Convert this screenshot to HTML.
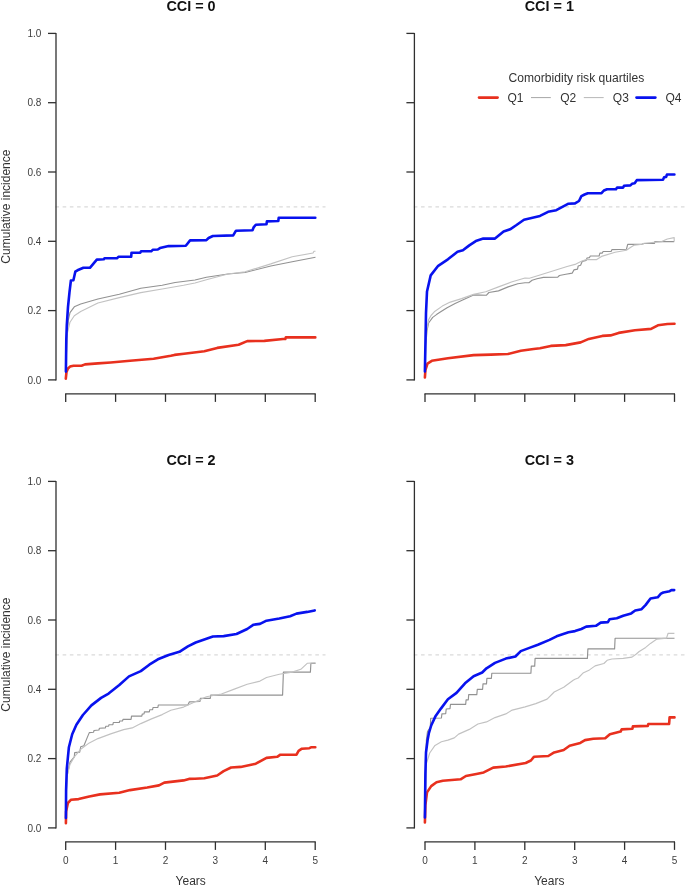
<!DOCTYPE html><html><head><meta charset="utf-8"><title>Cumulative incidence by CCI</title>
<style>html,body{margin:0;padding:0;background:#fff}svg{display:block}text{font-family:"Liberation Sans",Arial,Helvetica,sans-serif}</style></head><body>
<svg width="685" height="886" viewBox="0 0 685 886">
<rect width="685" height="886" fill="#fff"/>
<line x1="55.4" y1="206.8" x2="325.5" y2="206.8" stroke="#dadada" stroke-width="1.3" stroke-dasharray="3.6 3.62"/>
<polyline points="65.8,378.6 66.5,372.0 68.0,368.5 70.0,366.6 73.5,365.7 81.5,365.7 85.0,364.4 97.9,363.4 110.7,362.5 130.0,360.8 153.6,358.7 170.8,355.7 174.5,354.9 184.0,353.7 204.3,351.2 217.2,347.9 238.6,344.7 247.2,341.1 264.3,340.9 283.0,339.0 285.3,339.0 285.8,337.4 315.3,337.4" fill="none" stroke="#e8301e" stroke-width="2.6" stroke-linejoin="round" stroke-linecap="round"/>
<polyline points="66.0,372.0 66.8,340.0 68.3,320.0 70.0,312.6 74.3,306.8 80.7,304.0 97.9,299.0 119.3,294.3 140.8,288.3 162.2,285.3 175.1,282.5 195.0,280.0 206.4,277.2 227.9,274.0 245.0,272.5 270.8,266.0 292.2,261.7 315.5,257.2" fill="none" stroke="#929292" stroke-width="1.15" stroke-linejoin="round"/>
<polyline points="66.0,372.0 66.6,345.0 67.4,333.0 70.0,322.2 74.3,315.8 80.7,311.5 97.9,303.0 119.3,297.6 140.8,292.6 162.2,289.0 183.6,285.3 195.0,283.0 206.4,279.8 227.9,274.0 245.0,271.8 270.8,263.9 292.2,256.8 313.0,253.0 314.0,251.2 315.5,251.2" fill="none" stroke="#c2c2c2" stroke-width="1.15" stroke-linejoin="round"/>
<polyline points="65.9,371.6 66.3,339.4 66.8,325.0 68.0,306.8 69.5,292.2 70.9,280.5 73.4,280.2 75.3,271.7 77.5,270.3 83.4,267.8 89.9,267.8 96.8,259.6 103.8,259.3 104.5,258.3 116.9,258.3 118.4,256.8 131.2,256.7 131.5,252.7 140.3,252.7 141.0,251.3 151.2,251.3 152.7,249.8 157.8,249.5 160.0,248.1 168.6,246.1 185.8,245.7 190.1,240.4 206.4,240.1 208.6,238.0 212.9,236.0 233.2,235.4 236.0,230.7 252.5,230.2 253.6,227.4 255.8,224.7 266.5,224.2 266.9,221.4 278.3,221.0 278.7,217.8 315.3,217.8" fill="none" stroke="#0812ee" stroke-width="2.6" stroke-linejoin="round" stroke-linecap="round"/>
<g stroke="#303030" stroke-width="1.3" fill="none">
<line x1="56.0" y1="32.9" x2="56.0" y2="380.4"/>
<line x1="48.0" y1="379.9" x2="56.0" y2="379.9"/>
<line x1="48.0" y1="310.6" x2="56.0" y2="310.6"/>
<line x1="48.0" y1="241.3" x2="56.0" y2="241.3"/>
<line x1="48.0" y1="172.0" x2="56.0" y2="172.0"/>
<line x1="48.0" y1="102.7" x2="56.0" y2="102.7"/>
<line x1="48.0" y1="33.4" x2="56.0" y2="33.4"/>
<line x1="65.2" y1="393.8" x2="315.7" y2="393.8"/>
<line x1="65.7" y1="393.8" x2="65.7" y2="401.9"/>
<line x1="115.6" y1="393.8" x2="115.6" y2="401.9"/>
<line x1="165.5" y1="393.8" x2="165.5" y2="401.9"/>
<line x1="215.4" y1="393.8" x2="215.4" y2="401.9"/>
<line x1="265.3" y1="393.8" x2="265.3" y2="401.9"/>
<line x1="315.2" y1="393.8" x2="315.2" y2="401.9"/>
</g>
<text x="41.4" y="383.5" font-size="10" text-anchor="end" fill="#3e3e3e">0.0</text>
<text x="41.4" y="314.2" font-size="10" text-anchor="end" fill="#3e3e3e">0.2</text>
<text x="41.4" y="244.9" font-size="10" text-anchor="end" fill="#3e3e3e">0.4</text>
<text x="41.4" y="175.6" font-size="10" text-anchor="end" fill="#3e3e3e">0.6</text>
<text x="41.4" y="106.3" font-size="10" text-anchor="end" fill="#3e3e3e">0.8</text>
<text x="41.4" y="37.0" font-size="10" text-anchor="end" fill="#3e3e3e">1.0</text>
<text transform="translate(10.2,206.6) rotate(-90)" font-size="12" text-anchor="middle" fill="#333">Cumulative incidence</text>
<text x="191.0" y="10.9" font-size="14.4" font-weight="bold" text-anchor="middle" fill="#111">CCI = 0</text>
<line x1="413.8" y1="206.8" x2="684.5" y2="206.8" stroke="#dadada" stroke-width="1.3" stroke-dasharray="3.6 3.62"/>
<polyline points="424.9,377.4 425.4,370.0 427.5,363.6 431.8,360.8 447.9,358.3 473.6,355.1 490.8,354.6 507.9,354.0 520.8,350.8 533.6,349.0 540.0,348.3 550.8,345.9 565.7,345.1 580.7,342.4 588.8,338.9 602.3,335.9 610.5,335.4 618.6,332.9 634.9,330.2 651.1,328.9 657.9,325.3 667.4,324.0 674.5,323.7" fill="none" stroke="#e8301e" stroke-width="2.6" stroke-linejoin="round" stroke-linecap="round"/>
<polyline points="425.2,372.0 425.6,345.0 426.4,338.0 427.0,331.0 428.6,323.0 432.7,317.4 436.5,314.6 440.7,311.8 447.1,307.7 455.1,303.4 463.2,299.7 473.6,294.9 486.5,295.2 488.9,292.5 498.5,290.9 508.1,286.9 517.8,283.7 525.0,282.8 528.9,282.7 532.1,280.3 536.9,278.7 543.4,277.4 557.8,277.1 559.4,275.5 565.8,274.2 572.3,273.1 573.9,269.9 577.5,269.1 578.2,266.0 580.6,265.2 582.2,261.5 586.2,260.4 587.0,258.0 589.5,257.6 590.3,256.0 599.1,256.0 599.9,253.1 602.3,253.1 603.1,251.5 611.1,251.5 611.9,249.6 626.4,249.3 627.7,244.3 641.6,244.3 644.1,243.5 654.5,243.5 654.8,241.6 674.2,241.6" fill="none" stroke="#929292" stroke-width="1.15" stroke-linejoin="round"/>
<polyline points="425.2,372.0 425.6,345.0 426.4,332.0 427.0,327.8 428.6,319.8 431.0,315.5 434.3,311.8 442.3,306.1 450.3,302.1 461.6,298.6 473.6,294.4 485.7,291.7 498.5,286.9 511.4,282.0 525.0,278.0 529.4,278.2 540.0,275.0 567.1,266.5 575.0,264.4 581.4,261.2 586.2,259.6 596.7,259.6 601.5,256.4 615.1,252.3 626.4,250.3 630.4,247.5 634.4,245.1 642.4,244.3 644.1,243.2 661.7,241.6 667.3,239.0 674.2,237.6 674.2,241.6" fill="none" stroke="#c2c2c2" stroke-width="1.15" stroke-linejoin="round"/>
<polyline points="424.9,371.5 425.5,340.0 426.0,313.0 427.0,291.5 430.7,275.4 438.2,265.8 447.9,259.3 457.5,251.8 462.9,250.3 469.3,245.4 475.8,241.1 483.3,238.6 495.0,238.6 503.6,231.5 510.1,229.3 516.5,225.0 524.0,219.7 533.6,217.5 540.0,215.9 548.1,211.8 556.3,210.2 568.5,203.7 575.0,203.4 579.0,201.0 581.4,196.1 584.6,194.5 587.8,193.2 601.5,193.2 603.9,190.5 607.1,189.2 616.0,189.2 617.1,187.6 623.2,187.6 624.0,185.7 630.4,185.4 632.0,183.8 634.7,183.3 636.8,180.1 663.0,179.8 664.1,177.3 666.2,176.9 666.9,174.5 674.4,174.5" fill="none" stroke="#0812ee" stroke-width="2.6" stroke-linejoin="round" stroke-linecap="round"/>
<g stroke="#303030" stroke-width="1.3" fill="none">
<line x1="414.4" y1="32.9" x2="414.4" y2="380.4"/>
<line x1="406.4" y1="379.9" x2="414.4" y2="379.9"/>
<line x1="406.4" y1="310.6" x2="414.4" y2="310.6"/>
<line x1="406.4" y1="241.3" x2="414.4" y2="241.3"/>
<line x1="406.4" y1="172.0" x2="414.4" y2="172.0"/>
<line x1="406.4" y1="102.7" x2="414.4" y2="102.7"/>
<line x1="406.4" y1="33.4" x2="414.4" y2="33.4"/>
<line x1="424.5" y1="393.8" x2="675.0" y2="393.8"/>
<line x1="425.0" y1="393.8" x2="425.0" y2="401.9"/>
<line x1="474.9" y1="393.8" x2="474.9" y2="401.9"/>
<line x1="524.8" y1="393.8" x2="524.8" y2="401.9"/>
<line x1="574.7" y1="393.8" x2="574.7" y2="401.9"/>
<line x1="624.6" y1="393.8" x2="624.6" y2="401.9"/>
<line x1="674.5" y1="393.8" x2="674.5" y2="401.9"/>
</g>
<text x="549.3" y="10.9" font-size="14.4" font-weight="bold" text-anchor="middle" fill="#111">CCI = 1</text>
<line x1="55.4" y1="654.8" x2="325.5" y2="654.8" stroke="#dadada" stroke-width="1.3" stroke-dasharray="3.6 3.62"/>
<polyline points="65.9,823.3 66.1,811.5 67.9,803.0 71.1,799.7 78.6,799.1 89.3,796.5 100.0,794.4 119.3,792.7 130.0,790.1 147.2,787.5 159.0,785.4 164.3,782.6 183.6,780.4 189.0,778.9 195.0,778.7 204.3,778.3 217.2,775.5 223.6,771.2 231.1,767.5 240.7,766.9 255.8,763.7 266.5,757.9 277.2,756.8 280.4,754.7 296.5,754.7 298.6,750.8 301.9,748.7 309.4,748.2 311.5,747.2 315.3,747.2" fill="none" stroke="#e8301e" stroke-width="2.6" stroke-linejoin="round" stroke-linecap="round"/>
<polyline points="65.8,815.0 66.8,777.2 70.0,762.2 74.3,756.9 74.7,752.6 79.7,752.1 80.7,746.8 83.9,745.7 87.2,737.6 89.3,732.6 93.6,732.2 94.0,730.5 98.9,730.0 99.4,728.3 105.4,727.9 105.8,726.2 108.6,726.2 109.0,724.7 112.9,724.7 113.3,722.5 119.3,722.5 119.7,721.0 122.5,721.0 123.0,719.3 131.1,719.3 131.5,716.1 141.8,716.1 142.3,714.0 144.0,714.0 144.4,711.8 149.3,711.8 149.8,709.7 152.6,709.7 153.0,707.5 157.9,707.5 158.3,705.0 187.9,705.0 189.3,701.9 200.0,701.5 200.4,698.3 210.3,698.3 210.7,695.1 282.6,695.1 283.4,672.1 310.4,672.1 310.9,663.3 315.5,663.3" fill="none" stroke="#929292" stroke-width="1.15" stroke-linejoin="round"/>
<polyline points="65.8,815.0 66.8,777.2 70.0,764.4 74.3,756.9 80.7,749.3 89.3,742.9 97.9,738.6 110.7,733.9 123.6,729.6 132.2,727.9 140.8,723.6 151.5,718.9 162.2,714.6 170.8,710.3 183.6,707.1 193.6,702.6 206.4,696.8 221.4,694.0 234.3,689.1 247.2,684.3 260.0,681.1 266.5,677.5 279.3,674.3 292.2,672.1 300.8,669.3 307.2,663.3 315.5,662.9" fill="none" stroke="#c2c2c2" stroke-width="1.15" stroke-linejoin="round"/>
<polyline points="65.9,818.0 66.1,790.0 66.8,768.6 68.9,747.2 72.2,734.3 76.4,724.7 82.9,715.0 91.4,705.4 101.1,697.9 108.6,693.6 119.3,685.0 129.0,676.4 140.8,671.1 149.3,664.7 157.9,659.3 168.6,655.0 179.4,651.8 187.9,646.4 195.7,642.5 212.9,636.5 223.6,636.1 236.5,634.0 247.2,629.0 253.6,624.7 260.0,623.9 266.5,620.7 279.3,618.5 290.1,616.2 296.5,613.6 307.2,611.9 314.7,610.4" fill="none" stroke="#0812ee" stroke-width="2.6" stroke-linejoin="round" stroke-linecap="round"/>
<g stroke="#303030" stroke-width="1.3" fill="none">
<line x1="56.0" y1="480.9" x2="56.0" y2="828.4"/>
<line x1="48.0" y1="827.9" x2="56.0" y2="827.9"/>
<line x1="48.0" y1="758.6" x2="56.0" y2="758.6"/>
<line x1="48.0" y1="689.3" x2="56.0" y2="689.3"/>
<line x1="48.0" y1="620.0" x2="56.0" y2="620.0"/>
<line x1="48.0" y1="550.7" x2="56.0" y2="550.7"/>
<line x1="48.0" y1="481.4" x2="56.0" y2="481.4"/>
<line x1="65.2" y1="841.8" x2="315.7" y2="841.8"/>
<line x1="65.7" y1="841.8" x2="65.7" y2="849.9"/>
<line x1="115.6" y1="841.8" x2="115.6" y2="849.9"/>
<line x1="165.5" y1="841.8" x2="165.5" y2="849.9"/>
<line x1="215.4" y1="841.8" x2="215.4" y2="849.9"/>
<line x1="265.3" y1="841.8" x2="265.3" y2="849.9"/>
<line x1="315.2" y1="841.8" x2="315.2" y2="849.9"/>
</g>
<text x="41.4" y="831.5" font-size="10" text-anchor="end" fill="#3e3e3e">0.0</text>
<text x="41.4" y="762.2" font-size="10" text-anchor="end" fill="#3e3e3e">0.2</text>
<text x="41.4" y="692.9" font-size="10" text-anchor="end" fill="#3e3e3e">0.4</text>
<text x="41.4" y="623.6" font-size="10" text-anchor="end" fill="#3e3e3e">0.6</text>
<text x="41.4" y="554.3" font-size="10" text-anchor="end" fill="#3e3e3e">0.8</text>
<text x="41.4" y="485.0" font-size="10" text-anchor="end" fill="#3e3e3e">1.0</text>
<text transform="translate(10.2,654.6) rotate(-90)" font-size="12" text-anchor="middle" fill="#333">Cumulative incidence</text>
<text x="65.7" y="864.4" font-size="10" text-anchor="middle" fill="#3e3e3e">0</text>
<text x="115.6" y="864.4" font-size="10" text-anchor="middle" fill="#3e3e3e">1</text>
<text x="165.5" y="864.4" font-size="10" text-anchor="middle" fill="#3e3e3e">2</text>
<text x="215.4" y="864.4" font-size="10" text-anchor="middle" fill="#3e3e3e">3</text>
<text x="265.3" y="864.4" font-size="10" text-anchor="middle" fill="#3e3e3e">4</text>
<text x="315.2" y="864.4" font-size="10" text-anchor="middle" fill="#3e3e3e">5</text>
<text x="190.7" y="884.8" font-size="12" text-anchor="middle" fill="#333">Years</text>
<text x="191.0" y="465.1" font-size="14.4" font-weight="bold" text-anchor="middle" fill="#111">CCI = 2</text>
<line x1="413.8" y1="654.8" x2="684.5" y2="654.8" stroke="#dadada" stroke-width="1.3" stroke-dasharray="3.6 3.62"/>
<polyline points="424.9,822.4 425.4,805.0 427.0,792.4 431.2,786.1 436.5,782.3 442.8,780.8 460.6,779.3 465.9,776.0 476.4,773.9 483.7,772.4 493.2,767.6 505.8,766.5 525.7,763.0 530.9,760.5 534.1,756.7 548.3,756.0 554.2,752.4 563.7,750.0 569.6,745.8 580.3,742.9 585.0,740.1 593.3,738.7 605.2,738.2 609.9,734.2 620.6,731.6 621.7,729.4 632.4,728.7 632.9,726.4 647.8,725.9 648.3,724.0 669.1,724.0 669.6,717.4 674.5,717.4" fill="none" stroke="#e8301e" stroke-width="2.6" stroke-linejoin="round" stroke-linecap="round"/>
<polyline points="425.2,815.0 425.8,760.0 426.4,740.0 427.5,731.5 430.3,727.2 430.7,718.2 441.4,718.0 441.9,713.9 445.7,713.7 446.2,709.0 450.0,708.6 450.5,704.3 465.7,704.3 466.1,699.8 468.3,699.8 468.7,694.6 476.8,694.6 477.3,689.3 482.6,689.3 483.0,683.9 486.5,683.9 486.9,678.3 491.4,678.3 491.8,673.2 530.9,673.2 531.3,666.1 534.7,666.1 535.1,658.4 587.4,658.4 587.9,648.9 614.6,648.9 615.1,638.2 674.5,638.2" fill="none" stroke="#929292" stroke-width="1.15" stroke-linejoin="round"/>
<polyline points="425.2,815.0 425.8,780.0 426.4,763.7 429.7,753.0 435.0,745.4 441.4,741.8 447.9,740.1 454.3,737.9 458.6,734.1 469.3,729.4 477.9,724.0 486.5,721.9 495.0,717.6 505.8,713.9 512.2,710.1 525.1,706.9 535.8,703.6 547.1,699.1 554.2,692.0 563.7,687.3 573.2,680.2 575.0,679.2 578.2,678.0 583.0,673.1 589.5,669.9 595.1,665.9 603.9,663.5 607.1,660.3 611.9,659.0 623.2,658.4 632.0,657.1 636.0,654.2 639.2,651.5 645.7,647.4 650.5,643.4 656.9,639.1 666.5,638.1 668.1,633.3 674.4,633.3" fill="none" stroke="#c2c2c2" stroke-width="1.15" stroke-linejoin="round"/>
<polyline points="424.9,817.5 425.4,773.5 426.0,752.5 427.6,740.0 428.8,733.5 431.2,725.5 435.3,716.6 440.9,708.6 447.9,699.3 456.5,692.9 465.0,683.3 473.6,676.2 482.2,672.5 486.5,668.3 495.0,662.9 505.8,658.6 515.4,656.5 520.8,651.1 529.4,647.9 537.9,644.7 549.5,639.9 556.6,636.3 568.5,632.3 575.0,631.1 581.4,629.0 586.2,626.6 595.9,625.8 600.7,622.6 607.9,622.1 609.5,619.3 616.8,618.2 623.2,615.7 631.2,613.4 635.2,610.5 641.6,609.2 645.7,604.9 650.5,598.5 657.7,597.3 660.9,593.7 663.3,592.5 669.7,591.2 671.4,590.1 674.2,590.1" fill="none" stroke="#0812ee" stroke-width="2.6" stroke-linejoin="round" stroke-linecap="round"/>
<g stroke="#303030" stroke-width="1.3" fill="none">
<line x1="414.4" y1="480.9" x2="414.4" y2="828.4"/>
<line x1="406.4" y1="827.9" x2="414.4" y2="827.9"/>
<line x1="406.4" y1="758.6" x2="414.4" y2="758.6"/>
<line x1="406.4" y1="689.3" x2="414.4" y2="689.3"/>
<line x1="406.4" y1="620.0" x2="414.4" y2="620.0"/>
<line x1="406.4" y1="550.7" x2="414.4" y2="550.7"/>
<line x1="406.4" y1="481.4" x2="414.4" y2="481.4"/>
<line x1="424.5" y1="841.8" x2="675.0" y2="841.8"/>
<line x1="425.0" y1="841.8" x2="425.0" y2="849.9"/>
<line x1="474.9" y1="841.8" x2="474.9" y2="849.9"/>
<line x1="524.8" y1="841.8" x2="524.8" y2="849.9"/>
<line x1="574.7" y1="841.8" x2="574.7" y2="849.9"/>
<line x1="624.6" y1="841.8" x2="624.6" y2="849.9"/>
<line x1="674.5" y1="841.8" x2="674.5" y2="849.9"/>
</g>
<text x="425.0" y="864.4" font-size="10" text-anchor="middle" fill="#3e3e3e">0</text>
<text x="474.9" y="864.4" font-size="10" text-anchor="middle" fill="#3e3e3e">1</text>
<text x="524.8" y="864.4" font-size="10" text-anchor="middle" fill="#3e3e3e">2</text>
<text x="574.7" y="864.4" font-size="10" text-anchor="middle" fill="#3e3e3e">3</text>
<text x="624.6" y="864.4" font-size="10" text-anchor="middle" fill="#3e3e3e">4</text>
<text x="674.5" y="864.4" font-size="10" text-anchor="middle" fill="#3e3e3e">5</text>
<text x="549.3" y="884.8" font-size="12" text-anchor="middle" fill="#333">Years</text>
<text x="549.3" y="465.1" font-size="14.4" font-weight="bold" text-anchor="middle" fill="#111">CCI = 3</text>
<text x="576.4" y="81.9" font-size="12.08" text-anchor="middle" fill="#333">Comorbidity risk quartiles</text>
<line x1="479" y1="97.6" x2="497.6" y2="97.6" stroke="#e8301e" stroke-width="2.6" stroke-linecap="round"/>
<text x="507.4" y="101.9" font-size="12" fill="#333">Q1</text>
<line x1="531" y1="97.6" x2="550.8" y2="97.6" stroke="#a6a6a6" stroke-width="1"/>
<text x="560.2" y="101.9" font-size="12" fill="#333">Q2</text>
<line x1="583.8" y1="97.6" x2="603.7" y2="97.6" stroke="#b8b8b8" stroke-width="1"/>
<text x="612.8" y="101.9" font-size="12" fill="#333">Q3</text>
<line x1="636.5" y1="97.6" x2="655.4" y2="97.6" stroke="#0812ee" stroke-width="2.6" stroke-linecap="round"/>
<text x="665.5" y="101.9" font-size="12" fill="#333">Q4</text>
</svg></body></html>
